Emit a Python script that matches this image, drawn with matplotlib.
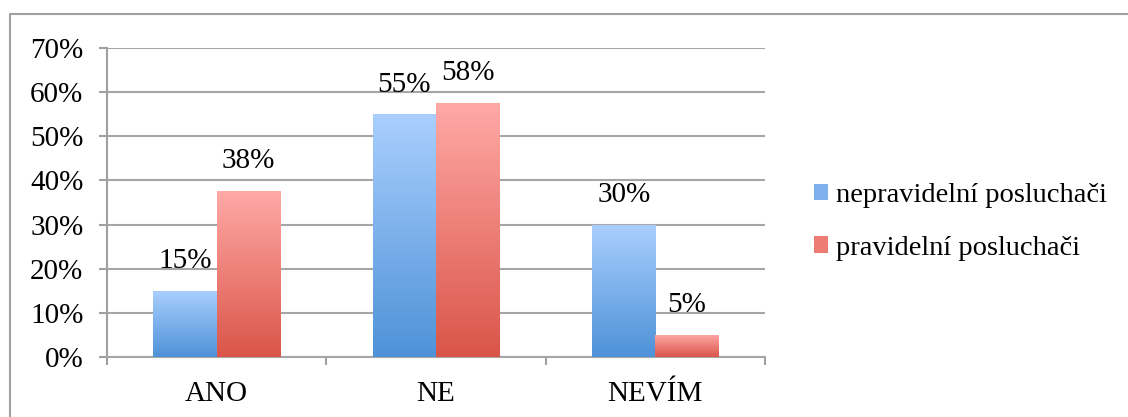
import matplotlib.pyplot as plt
import numpy as np
from matplotlib.colors import to_rgb
from matplotlib.patches import Patch
from matplotlib.lines import Line2D

categories = ['ANO', 'NE', 'NEVÍM']
series_names = ['nepravidelní posluchači', 'pravidelní posluchači']
nepravidelni = [15, 55, 30]
pravidelni = [37.6, 57.6, 5]
yticks = [0, 10, 20, 30, 40, 50, 60, 70]

# gradient colours: (top, bottom)
grad = [('#AACFFE', '#4E92D8'), ('#FFA9A6', '#DA5549')]

plt.rcParams['font.family'] = ['Liberation Serif', 'DejaVu Serif']

fig = plt.figure(figsize=(11.28, 4.17), dpi=100)
ax = fig.add_axes([107/1128, 60/417, 658/1128, 309/417])

x = np.arange(len(categories))
w = 0.288


def gradient_bar(xc, h, top, bottom):
    b = ax.bar(xc, h, w, color='none', edgecolor='none', zorder=3)[0]
    t = np.array(to_rgb(top))
    bo = np.array(to_rgb(bottom))
    f = np.linspace(0, 1, 256)[:, None]
    img = (t * (1 - f) + bo * f)[:, None, :]
    im = ax.imshow(img, extent=[xc - w/2, xc + w/2, 0, h], aspect='auto',
                   origin='upper', zorder=3)
    im.set_clip_path(b)
    ax.annotate(f'{h:.0f}%', (xc, h), xytext=(0, 12), textcoords='offset points',
                ha='center', va='bottom', fontsize=21, zorder=4)


for vals, off, (top, bottom) in zip([nepravidelni, pravidelni], [-w/2, w/2], grad):
    for xi, v in zip(x, vals):
        gradient_bar(xi + off, v, top, bottom)

ax.set_xlim(-0.5, len(categories) - 0.5)
ax.set_ylim(0, 70)
ax.set_yticks(yticks)
ax.set_yticklabels([f'{t}%' for t in yticks], fontsize=21)
ax.set_xticks(x)
ax.set_xticklabels(categories, fontsize=21)
ax.set_xticks(np.arange(-0.5, len(categories)), minor=True)
ax.tick_params(axis='x', which='major', length=0, pad=17)
ax.tick_params(axis='x', which='minor', length=6, width=1.5, color='#A0A0A0')
ax.tick_params(axis='y', length=6, width=1.5, color='#A0A0A0', pad=11)
ax.grid(axis='y', color='#A6A6A6', linewidth=1.5, zorder=0)
ax.set_axisbelow(True)
for s in ['top', 'right']:
    ax.spines[s].set_visible(False)
ax.spines['left'].set_color('#A0A0A0')
ax.spines['left'].set_linewidth(1.5)
ax.spines['bottom'].set_color('#A6A6A6')
ax.spines['bottom'].set_linewidth(1.5)

handles = [Patch(facecolor='#7DB0EC', edgecolor='none'),
           Patch(facecolor='#EC7C74', edgecolor='none')]
fig.legend(handles, series_names, loc='center left',
           bbox_to_anchor=(788/1128, 1 - 222/417), frameon=False, fontsize=20.5,
           handlelength=0.5, handleheight=0.5, handletextpad=0.3,
           labelspacing=0.95)

# outer frame (top and left visible)
bx, by = 10/1128, 1 - 14/417
fig.add_artist(Line2D([bx, bx, 1.0], [0, by, by], color='#A0A0A0', linewidth=1.5,
                      transform=fig.transFigure))

plt.savefig('out.png', dpi=100)
plt.close()
